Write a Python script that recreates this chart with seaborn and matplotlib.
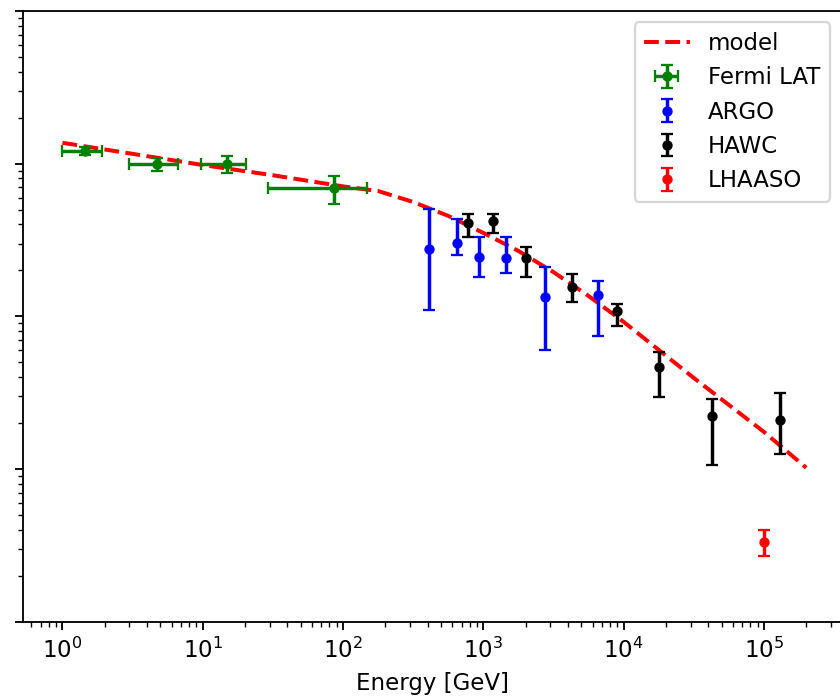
import numpy as np
import pandas as pd
import matplotlib
matplotlib.use("Agg")
import matplotlib.pyplot as plt
import seaborn as sns

# ---------------- data ----------------
model_E = [1, 3.16, 10, 31.6, 100, 178, 316, 562, 1000, 1780, 3160, 5620,
           10000, 31600, 100000, 200000]
model_F = [1.37e-10, 1.16e-10, 9.8e-11, 8.4e-11, 7.1e-11, 6.62e-11, 5.61e-11,
           4.55e-11, 3.52e-11, 2.68e-11, 1.95e-11, 1.36e-11,
           9.2e-12, 3.95e-12, 1.75e-12, 1.02e-12]

fermi_E = [1.45, 4.69, 14.8, 86.1]
fermi_E_lo = [0.99, 2.99, 9.66, 29.3]
fermi_E_hi = [1.9, 6.69, 20.3, 147]
fermi_F = [1.216e-10, 9.9e-11, 9.9e-11, 6.9e-11]
fermi_F_lo = [1.14e-10, 9.0e-11, 8.65e-11, 5.45e-11]
fermi_F_hi = [1.29e-10, 1.09e-10, 1.13e-10, 8.3e-11]

argo_E = [411, 652, 935, 1449, 2748, 6590]
argo_F = [2.75e-11, 3.04e-11, 2.46e-11, 2.40e-11, 1.33e-11, 1.38e-11]
argo_F_lo = [1.10e-11, 2.52e-11, 1.80e-11, 1.91e-11, 6.0e-12, 7.4e-12]
argo_F_hi = [5.02e-11, 4.33e-11, 3.33e-11, 3.30e-11, 2.09e-11, 1.71e-11]

hawc_E = [780, 1177, 2013, 4257, 9000, 17950, 42400, 130000]
hawc_F = [4.07e-11, 4.24e-11, 2.40e-11, 1.55e-11, 1.09e-11, 4.69e-12, 2.23e-12, 2.10e-12]
hawc_F_lo = [3.33e-11, 3.53e-11, 1.80e-11, 1.25e-11, 8.65e-12, 2.98e-12, 1.07e-12, 1.26e-12]
hawc_F_hi = [4.69e-11, 4.69e-11, 2.83e-11, 1.90e-11, 1.21e-11, 5.87e-12, 2.86e-12, 3.13e-12]

lhaaso_E = [1e5]
lhaaso_F = [3.35e-13]
lhaaso_F_lo = [2.71e-13]
lhaaso_F_hi = [3.99e-13]

# ---------------- figure ----------------
W, H, DPI = 840, 700, 165
fig = plt.figure(figsize=(W / DPI, H / DPI), dpi=DPI)
ax = fig.add_axes([23 / W, (H - 621.7) / H, 818 / W, 610.7 / H])

model_df = pd.DataFrame({"E": model_E, "F": model_F})
sns.lineplot(data=model_df, x="E", y="F", ax=ax, color="red", linestyle="--",
             linewidth=1.75, label="model")


def err(vals, lo, hi):
    v = np.asarray(vals)
    return np.vstack([v - np.asarray(lo), np.asarray(hi) - v])


common = dict(fmt="o", markersize=3.5, capsize=2.5, elinewidth=1.5)
ax.errorbar(fermi_E, fermi_F, xerr=err(fermi_E, fermi_E_lo, fermi_E_hi),
            yerr=err(fermi_F, fermi_F_lo, fermi_F_hi), color="green",
            label="Fermi LAT", **common)
ax.errorbar(argo_E, argo_F, yerr=err(argo_F, argo_F_lo, argo_F_hi),
            color="blue", label="ARGO", **common)
ax.errorbar(hawc_E, hawc_F, yerr=err(hawc_F, hawc_F_lo, hawc_F_hi),
            color="black", label="HAWC", **common)
ax.errorbar(lhaaso_E, lhaaso_F, yerr=err(lhaaso_F, lhaaso_F_lo, lhaaso_F_hi),
            color="red", label="LHAASO", **common)

ax.set_xscale("log")
ax.set_yscale("log")
ax.set_xlim(10 ** -0.281, 10 ** 5.549)
ax.set_ylim(1e-13, 1e-9)
ax.set_xlabel("Energy [GeV]")
ax.set_ylabel("")
ax.tick_params(axis="y", labelleft=False)
ax.legend(loc="upper right")

fig.savefig("out.png", dpi=DPI)
